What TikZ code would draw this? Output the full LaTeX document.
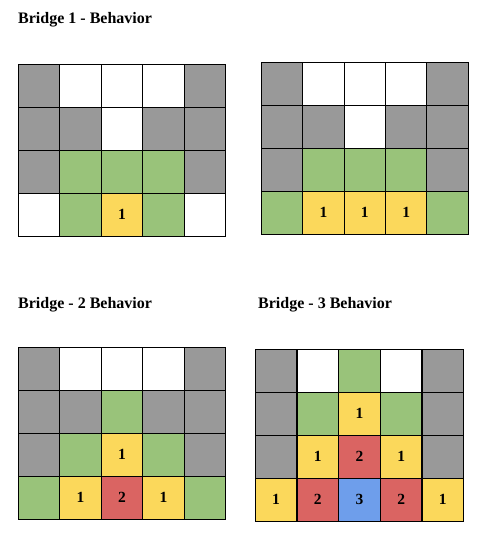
\documentclass[tikz,border=0pt]{standalone}
\usepackage{fontspec}
\setmainfont{Liberation Serif}[BoldFont={Liberation Serif Bold}]
\newfontfamily\bridgefont{Liberation Serif Bold}
\usepackage{tikz}
\definecolor{cg}{HTML}{999999}
\definecolor{cw}{HTML}{FFFFFF}
\definecolor{cn}{HTML}{99C37A}
\definecolor{cy}{HTML}{FBD85B}
\definecolor{cr}{HTML}{DA6462}
\definecolor{cb}{HTML}{6E9EEB}

\begin{document}
\begin{tikzpicture}[
  x=1pt, y=-1pt,
  every node/.style={font=\fontsize{15.5}{18}\bridgefont},
  cell/.style={draw=black, line width=1pt, minimum width=41.5pt, minimum height=43pt,
               inner sep=0pt, outer sep=0pt, anchor=north west},
  title/.style={anchor=base west, inner sep=0pt, font=\fontsize{16}{18}\bridgefont},
]
\useasboundingbox (0,0) rectangle (490,540);

% Bridge 1
\node[title] (t1) at (18,24) {Bridge 1 - Behavior};
\foreach \row [count=\j from 0] in {{cg/{},cw/{},cw/{},cw/{},cg/{}},{cg/{},cg/{},cw/{},cg/{},cg/{}},
                                   {cg/{},cn/{},cn/{},cn/{},cg/{}},{cw/{},cn/{},cy/1,cn/{},cw/{}}}
  \foreach \f/\n [count=\i from 0] in \row
    \node[cell, fill=\f] (a-\i-\j) at (18.3+\i*41.5, 64.3+\j*43) {\n};

% Bridge 1, second state
\foreach \row [count=\j from 0] in {{cg/{},cw/{},cw/{},cw/{},cg/{}},{cg/{},cg/{},cw/{},cg/{},cg/{}},
                                   {cg/{},cn/{},cn/{},cn/{},cg/{}},{cn/{},cy/1,cy/1,cy/1,cn/{}}}
  \foreach \f/\n [count=\i from 0] in \row
    \node[cell, fill=\f] (b-\i-\j) at (261.3+\i*41.4, 62.3+\j*43) {\n};

% Bridge 2
\node[title] (t2) at (18,308) {Bridge - 2 Behavior};
\foreach \row [count=\j from 0] in {{cg/{},cw/{},cw/{},cw/{},cg/{}},{cg/{},cg/{},cn/{},cg/{},cg/{}},
                                   {cg/{},cn/{},cy/1,cn/{},cg/{}},{cn/{},cy/1,cr/2,cy/1,cn/{}}}
  \foreach \f/\n [count=\i from 0] in \row
    \node[cell, fill=\f] (c-\i-\j) at (18.3+\i*41.5, 347+\j*43) {\n};

% Bridge 3
\node[title] (t3) at (258,308) {Bridge - 3 Behavior};
\foreach \row [count=\j from 0] in {{cg/{},cw/{},cn/{},cw/{},cg/{}},{cg/{},cn/{},cy/1,cn/{},cg/{}},
                                   {cg/{},cy/1,cr/2,cy/1,cg/{}},{cy/1,cr/2,cb/3,cr/2,cy/1}}
  \foreach \f/\n [count=\i from 0] in \row
    \node[cell, fill=\f] (d-\i-\j) at (255.3+\i*41.7, 349.3+\j*43) {\n};

\end{tikzpicture}
\end{document}
